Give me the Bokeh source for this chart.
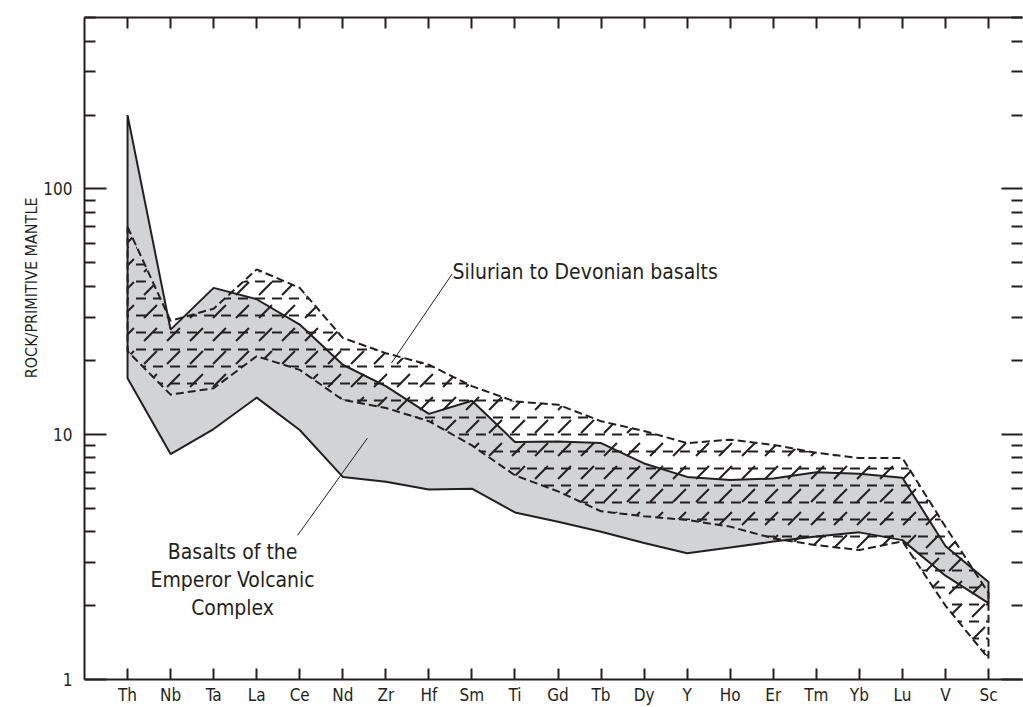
import math
from bokeh.plotting import figure
from bokeh.models import (LogAxis, LinearAxis, FixedTicker, Range1d, Label, Title,
                          ColumnDataSource, NumeralTickFormatter)
from bokeh.embed import file_html
from bokeh.resources import INLINE

# ---------------- data ----------------
elements = ["Th", "Nb", "Ta", "La", "Ce", "Nd", "Zr", "Hf", "Sm", "Ti", "Gd",
            "Tb", "Dy", "Y", "Ho", "Er", "Tm", "Yb", "Lu", "V", "Sc"]

# Basalts of the Emperor Volcanic Complex (grey field)
emperor_upper = [200, 26.7, 39.5, 35.5, 28.0, 19.2, 15.7, 12.1, 13.7, 9.3, 9.35,
                 9.2, 7.6, 6.7, 6.5, 6.6, 7.0, 6.9, 6.65, 3.5, 2.5]
emperor_lower = [16.9, 8.3, 10.5, 14.1, 10.4, 6.7, 6.4, 5.95, 6.0, 4.8, 4.4,
                 4.0, 3.6, 3.27, 3.45, 3.65, 3.83, 3.98, 3.7, 2.65, 2.05]

# Silurian to Devonian basalts (dashed, stippled field)
silurian_upper = [70, 29.0, 32.5, 47.0, 39.5, 24.7, 21.4, 19.2, 15.7, 13.6, 13.2,
                  11.3, 10.3, 9.2, 9.5, 9.05, 8.4, 8.0, 8.0, 4.2, 2.25]
silurian_lower = [21.8, 14.5, 15.4, 20.8, 18.3, 13.8, 12.8, 11.3, 9.0, 6.8, 5.85,
                  4.85, 4.63, 4.47, 4.2, 3.76, 3.53, 3.37, 3.66, 2.0, 1.22]

y_major = [1, 10, 100]
y_minor = [m * d for d in (1, 10, 100) for m in range(2, 10) if m * d <= 500]

INK = "#231f20"
GREY = "#d1d3d4"
FONT = "Liberation Sans Narrow, DejaVu Sans Condensed, Arial Narrow, sans-serif"

idx = list(range(len(elements)))


def polygon(upper, lower):
    xs = idx + idx[::-1]
    ys = list(upper) + list(lower)[::-1]
    return ColumnDataSource(dict(x=xs, y=ys))


emp_src = polygon(emperor_upper, emperor_lower)
sil_src = polygon(silurian_upper, silurian_lower)

p = figure(width=1023, height=707, y_axis_type="log",
           x_range=Range1d(-1, 20.79), y_range=Range1d(1, 500),
           output_backend="svg", toolbar_location=None,
           min_border_left=84, min_border_right=1, min_border_top=17,
           min_border_bottom=26)
p.outline_line_color = None
p.xgrid.visible = False
p.ygrid.visible = False
p.background_fill_color = "white"

# ---------------- fields ----------------
p.patch("x", "y", source=emp_src, fill_color=GREY, line_color=None)
p.patch("x", "y", source=sil_src, fill_color=None, line_color=None,
        hatch_pattern="horizontal_dash", hatch_scale=17, hatch_weight=2,
        hatch_color=INK)
p.patch("x", "y", source=sil_src, fill_color=None, line_color=None,
        hatch_pattern="right_diagonal_dash", hatch_scale=23, hatch_weight=2,
        hatch_color=INK)
p.patch("x", "y", source=sil_src, fill_color=None, line_color=INK,
        line_width=2, line_dash="8 4")
p.patch("x", "y", source=emp_src, fill_color=None, line_color=INK,
        line_width=2)

# ---------------- axes ----------------
xt = FixedTicker(ticks=idx)
bx = p.xaxis[0]
bx.ticker = xt
bx.major_label_overrides = {i: e for i, e in enumerate(elements)}
bx.major_tick_in = 11
bx.major_tick_out = 0
bx.minor_tick_line_color = None
bx.major_label_standoff = 5

yt = FixedTicker(ticks=y_major, minor_ticks=y_minor)
ly = p.yaxis[0]
ly.ticker = yt
ly.formatter = NumeralTickFormatter(format="0")
ly.major_tick_in = 22
ly.major_tick_out = 0
ly.minor_tick_in = 11
ly.minor_tick_out = 0
ly.major_label_standoff = 12

top = LinearAxis(ticker=FixedTicker(ticks=idx), major_tick_in=11,
                 major_tick_out=0, minor_tick_line_color=None,
                 major_label_text_font_size="1px", major_label_text_color=None,
                 major_label_standoff=0)
p.add_layout(top, "above")

right = LogAxis(ticker=FixedTicker(ticks=y_major, minor_ticks=y_minor),
                major_tick_in=21, major_tick_out=0, minor_tick_in=11,
                minor_tick_out=0, major_label_text_font_size="1px",
                major_label_text_color=None,
                major_label_standoff=0, axis_line_color=None)
p.add_layout(right, "right")

for ax in (bx, ly, top, right):
    if ax is not right:
        ax.axis_line_color = INK
        ax.axis_line_width = 2
    ax.major_tick_line_color = INK
    ax.major_tick_line_width = 2
    ax.minor_tick_line_width = 2
    ax.major_label_text_font = FONT
ly.minor_tick_line_color = INK
right.minor_tick_line_color = INK
bx.major_label_text_color = INK
ly.major_label_text_color = INK
bx.major_label_text_font_size = "17px"
ly.major_label_text_font_size = "17px"

# ---------------- y-axis title ----------------
ytitle = Title(text="ROCK/PRIMITIVE MANTLE", align="right", offset=180,
               text_font=FONT, text_font_size="16px", text_font_style="normal",
               text_color=INK, standoff=0)
p.add_layout(ytitle, "left")
# empty outer spacer so the axis title sits a little closer to the axis
p.add_layout(Title(text=" ", text_font_size="1px", standoff=16), "left")

# ---------------- annotations ----------------
p.add_layout(Label(x=7.55, y=45.8, text="Silurian to Devonian basalts",
                   text_align="left", text_baseline="alphabetic", text_font=FONT,
                   text_font_size="21px", text_color=INK))
p.segment(x0=[7.54], y0=[45.0], x1=[6.13], y1=[19.5], line_color=INK, line_width=1)

for txt, yy in (("Basalts of the", 3.30), ("Emperor Volcanic", 2.54), ("Complex", 1.95)):
    p.add_layout(Label(x=2.44, y=yy, text=txt, text_align="center",
                       text_baseline="alphabetic", text_font=FONT,
                       text_font_size="21px", text_color=INK))
p.segment(x0=[3.95], y0=[3.87], x1=[5.57], y1=[9.63], line_color=INK, line_width=1)

open("out.html", "w").write(file_html(p, INLINE))
